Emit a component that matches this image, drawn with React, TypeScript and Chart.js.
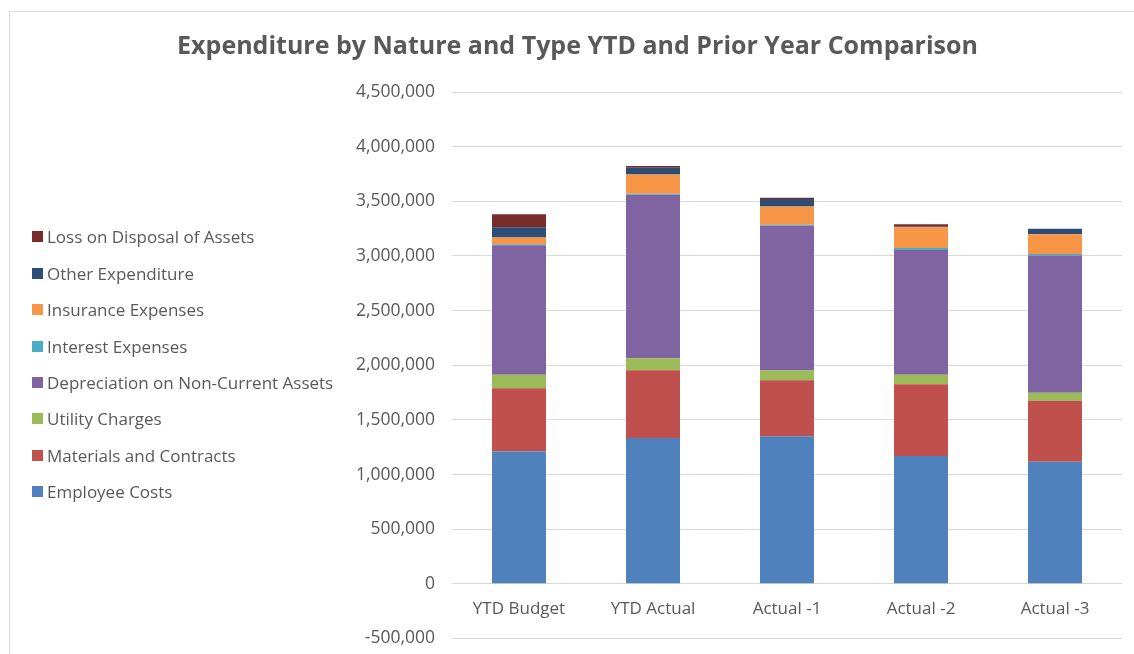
import React, { useEffect, useRef } from "react";
import { Chart, registerables } from "chart.js";

Chart.register(...registerables);

const categories = ["YTD Budget", "YTD Actual", "Actual -1", "Actual -2", "Actual -3"];
const employeeCosts = [1210000, 1335000, 1350000, 1170000, 1118000];
const materialsContracts = [580000, 620000, 513000, 657000, 557000];
const utilityCharges = [123000, 110000, 89000, 86000, 73000];
const depreciation = [1185000, 1495000, 1325000, 1142000, 1256000];
const interestExpenses = [10000, 10000, 8000, 18000, 14000];
const insuranceExpenses = [60000, 176000, 167000, 190000, 181000];
const otherExpenditure = [95000, 61000, 68000, 4000, 49000];
const lossOnDisposal = [119000, 15000, 12000, 24000, 0];

const seriesNames = [
  "Employee Costs",
  "Materials and Contracts",
  "Utility Charges",
  "Depreciation on Non-Current Assets",
  "Interest Expenses",
  "Insurance Expenses",
  "Other Expenditure",
  "Loss on Disposal of Assets",
];
const seriesValues = [
  employeeCosts,
  materialsContracts,
  utilityCharges,
  depreciation,
  interestExpenses,
  insuranceExpenses,
  otherExpenditure,
  lossOnDisposal,
];
const seriesColors = ["#4F81BD", "#C0504D", "#9BBB59", "#8064A2", "#4BACC6", "#F79646", "#2C4D75", "#772C2A"];

const FONT = "'Open Sans', sans-serif";
const TEXT = "#595959";
const CANVAS_H = 666;

export default function App() {
  const canvasRef = useRef<HTMLCanvasElement | null>(null);

  useEffect(() => {
    const ctx = canvasRef.current;
    if (!ctx) return;
    const chart = new Chart(ctx, {
      type: "bar",
      data: {
        labels: categories,
        datasets: seriesNames.map((name, i) => ({
          label: name,
          data: seriesValues[i],
          backgroundColor: seriesColors[i],
          borderWidth: 0,
          barPercentage: 0.403,
          categoryPercentage: 1,
        })),
      },
      options: {
        responsive: false,
        animation: false,
        layout: { padding: { left: 33, right: 12, top: 0, bottom: 6 } },
        plugins: {
          legend: { display: false },
          tooltip: { enabled: false },
          title: {
            display: true,
            text: "Expenditure by Nature and Type YTD and Prior Year Comparison",
            color: TEXT,
            font: { family: FONT, size: 25, weight: "bold" },
            padding: { top: 32, bottom: 30 },
          },
        },
        scales: {
          x: {
            stacked: true,
            position: { y: 0 } as any,
            grid: { display: false, drawTicks: false },
            border: { display: false },
            afterFit: (scale: any) => {
              scale.height = 0;
            },
            ticks: { color: TEXT, font: { family: FONT, size: 17 }, padding: 15 },
          },
          y: {
            stacked: true,
            min: -500000,
            max: 4500000,
            grid: { color: "#d9d9d9", lineWidth: 1, drawTicks: false },
            border: { display: false },
            afterFit: (scale: any) => {
              scale.width = 419;
            },
            ticks: {
              stepSize: 500000,
              color: TEXT,
              padding: 17,
              font: { family: FONT, size: 17.5 },
              callback: (v: any) => Number(v).toLocaleString("en-US"),
            },
          },
        },
      },
    });
    return () => chart.destroy();
  }, []);

  const legendOrder = seriesNames.map((_, i) => i).reverse();

  return (
    <div
      style={{
        position: "fixed",
        left: 0,
        top: 0,
        width: 1134,
        height: 654,
        overflow: "hidden",
        background: "#ffffff",
      }}
    >
      <div
        style={{
          position: "absolute",
          left: 9,
          top: 11,
          width: 1200,
          height: 700,
          border: "1px solid #d9d9d9",
          boxSizing: "border-box",
        }}
      />
      <canvas
        ref={canvasRef}
        width={1134}
        height={CANVAS_H}
        style={{ position: "absolute", left: 0, top: 0, width: 1134, height: CANVAS_H }}
      />
      <div style={{ position: "absolute", left: 32, top: 237 - 18.2 }}>
        {legendOrder.map((i) => (
          <div
            key={seriesNames[i]}
            style={{
              height: 36.4,
              display: "flex",
              alignItems: "center",
              fontFamily: FONT,
              fontSize: 17,
              color: TEXT,
              whiteSpace: "nowrap",
            }}
          >
            <span style={{ display: "inline-block", width: 11, height: 11, background: seriesColors[i], marginRight: 4 }} />
            <span>{seriesNames[i]}</span>
          </div>
        ))}
      </div>
    </div>
  );
}
